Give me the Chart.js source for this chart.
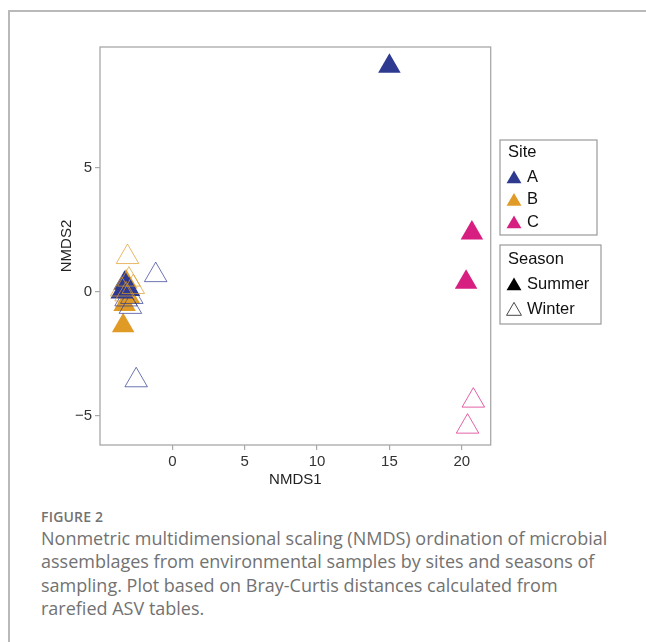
<!DOCTYPE html>
<html>
<head>
<meta charset="utf-8">
<script src="https://cdn.jsdelivr.net/npm/chart.js@4"></script>
<style>
  body { margin: 0; background: #fff; width: 646px; height: 642px; overflow: hidden; position: relative; }
  .frame { position: absolute; left: 8px; top: 10px; width: 700px; height: 700px;
           border-top: 2px solid #b9b9b9; border-left: 2px solid #b9b9b9; }
  .plot { position: absolute; left: 0; top: 0; width: 646px; height: 500px; }
  .caption { position: absolute; left: 41px; top: 507px; width: 578px; color: #727272;
             font-family: "Open Sans", sans-serif; }
  .caption .label { font-size: 14px; font-weight: 600; letter-spacing: 0.2px; margin-bottom: 1px; }
  .caption .text { font-size: 18px; line-height: 23.3px; }
</style>
</head>
<body>
<div class="frame"></div>
<div class="plot"><canvas id="nmds" width="646" height="500"></canvas></div>
<div class="caption">
  <div class="label">FIGURE 2</div>
  <div class="text">Nonmetric multidimensional scaling (NMDS) ordination of microbial assemblages from environmental samples by sites and seasons of sampling. Plot based on Bray-Curtis distances calculated from rarefied ASV tables.</div>
</div>

<script>
// NMDS scores, [NMDS1, NMDS2]
const summerA = [[15.0, 9.1], [-3.3, 0.35], [-3.0, 0.1], [-3.5, 0.0]];
const summerB = [[-3.4, -1.36], [-3.3, -0.5], [-3.0, -0.2], [-3.2, 0.4]];
const summerC = [[20.7, 2.38], [20.3, 0.39]];
const winterA = [[-1.15, 0.68], [-2.5, -3.56], [-2.9, -0.6], [-3.2, -0.3], [-2.8, -0.2]];
const winterB = [[-3.1, 1.41], [-3.0, 0.5], [-3.5, 0.1], [-2.7, 0.2], [-3.2, -0.1]];
const winterC = [[20.8, -4.38], [20.4, -5.43]];

const siteLabels = ["A", "B", "C"];
const seasonLabels = ["Summer", "Winter"];
const xTicks = [0, 5, 10, 15, 20];
const yTicks = [-5, 0, 5];

const siteColors = ["#2e3a90", "#e09b26", "#d61f80"];
const winterColors = ["rgba(46,58,144,0.7)", "rgba(224,155,38,0.7)", "rgba(214,31,128,0.7)"];

const FONT = "'Liberation Sans', Arial, sans-serif";
const toPts = arr => arr.map(p => ({ x: p[0], y: p[1] }));

function filled(data, i) {
	return {
		data: toPts(data),
		pointStyle: "triangle",
		pointRadius: 13,
		pointHoverRadius: 13,
		backgroundColor: siteColors[i],
		borderColor: siteColors[i],
		borderWidth: 0
	};
}

function hollow(data, i) {
	return {
		data: toPts(data),
		pointStyle: "triangle",
		pointRadius: 13,
		pointHoverRadius: 13,
		backgroundColor: "rgba(0,0,0,0)",
		borderColor: winterColors[i],
		borderWidth: 1
	};
}

// first dataset ends up on top
const datasets = [
	hollow(winterB, 1), hollow(winterA, 0), hollow(winterC, 2),
	filled(summerA, 0), filled(summerB, 1), filled(summerC, 2)
];

function triangle(ctx, cx, cy, r) {
	ctx.beginPath();
	ctx.moveTo(cx, cy - r);
	ctx.lineTo(cx + r * Math.sin(2 * Math.PI / 3), cy + r / 2);
	ctx.lineTo(cx - r * Math.sin(2 * Math.PI / 3), cy + r / 2);
	ctx.closePath();
}

// box around the panel + the two legend boxes
const panelPlugin = {
	id: "panel",
	afterDraw(chart) {
		const ctx = chart.ctx;
		const a = chart.chartArea;
		ctx.save();
		ctx.strokeStyle = "#a8a8a8";
		ctx.lineWidth = 1.3;
		ctx.strokeRect(a.left, a.top, a.right - a.left, a.bottom - a.top);

		ctx.strokeStyle = "#9a9a9a";
		ctx.lineWidth = 1.2;
		ctx.strokeRect(500, 140, 97, 95);
		ctx.strokeRect(500, 245, 101, 79);

		ctx.fillStyle = "#111";
		ctx.font = "16.5px " + FONT;
		ctx.textBaseline = "middle";
		ctx.fillText("Site", 508, 152);
		siteLabels.forEach((s, i) => {
			const y = 177 + i * 22.5;
			triangle(ctx, 514, y + 2, 8.6);
			ctx.fillStyle = siteColors[i];
			ctx.fill();
			ctx.fillStyle = "#111";
			ctx.fillText(s, 527, y);
		});

		ctx.fillText("Season", 508, 259);
		seasonLabels.forEach((s, i) => {
			const y = 284 + i * 25;
			triangle(ctx, 514, y + 2, 8.6);
			if (i === 0) {
				ctx.fillStyle = "#000";
				ctx.fill();
			} else {
				ctx.strokeStyle = "#333";
				ctx.lineWidth = 0.9;
				ctx.stroke();
			}
			ctx.fillStyle = "#111";
			ctx.fillText(s, 527, y);
		});
		ctx.restore();
	}
};

new Chart(document.getElementById("nmds"), {
	type: "scatter",
	data: { datasets },
	plugins: [panelPlugin],
	options: {
		responsive: false,
		animation: false,
		events: [],
		layout: { padding: { left: 0, top: 47, right: 155.3, bottom: 0 } },
		plugins: { legend: { display: false }, tooltip: { enabled: false } },
		scales: {
			x: {
				type: "linear",
				min: -5,
				max: 22,
				afterBuildTicks: s => { s.ticks = xTicks.map(v => ({ value: v })); },
				afterFit: s => { s.height = 55; },
				border: { display: false },
				grid: { drawOnChartArea: false, drawTicks: true, tickLength: 5, color: "#a8a8a8", lineWidth: 1.2 },
				ticks: { padding: 3, color: "#333", font: { family: FONT, size: 15 } },
				title: { display: true, text: "NMDS1", color: "#222", padding: { bottom: 11 },
					font: { family: FONT, size: 15 } }
			},
			y: {
				type: "linear",
				min: -6.17,
				max: 9.88,
				afterBuildTicks: s => { s.ticks = yTicks.map(v => ({ value: v })); },
				afterFit: s => { s.width = 100; },
				border: { display: false },
				grid: { drawOnChartArea: false, drawTicks: true, tickLength: 5, color: "#a8a8a8", lineWidth: 1.2 },
				ticks: { padding: 3, color: "#333", font: { family: FONT, size: 15 },
					callback: v => v < 0 ? "\u2212" + Math.abs(v) : String(v) },
				title: { display: true, text: "NMDS2", color: "#222", padding: { top: 58 },
					font: { family: FONT, size: 15 } }
			}
		}
	}
});
</script>
</body>
</html>
